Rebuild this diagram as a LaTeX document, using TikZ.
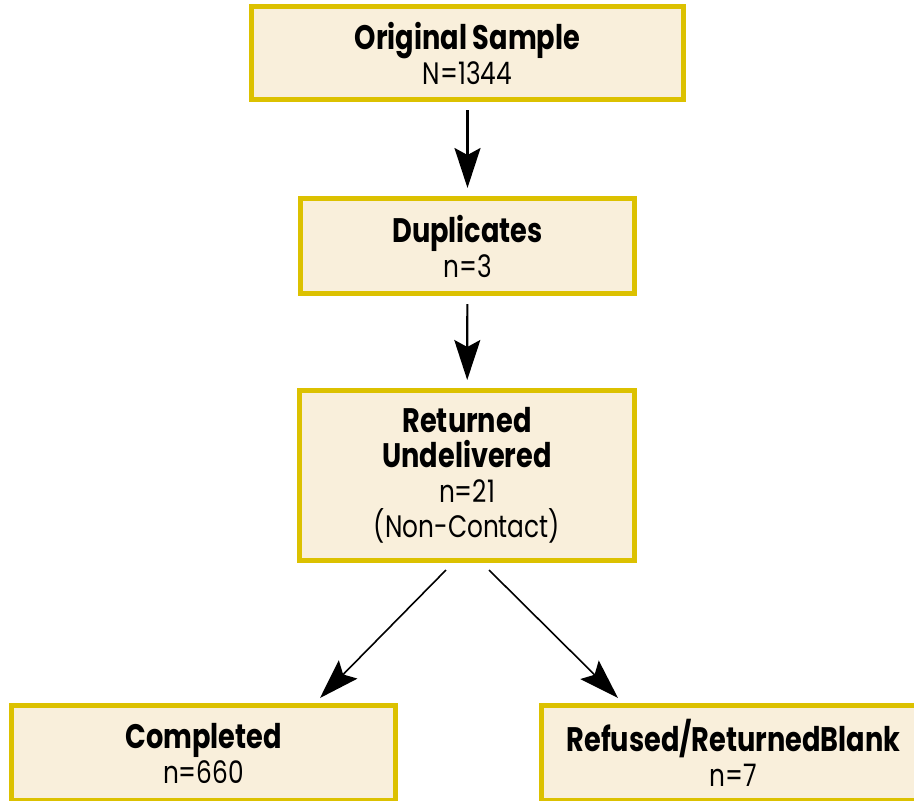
\documentclass[tikz,border=0pt]{standalone}
\usepackage{fontspec}
\setmainfont[FakeStretch=0.8]{Poppins}
\usetikzlibrary{arrows.meta}
\definecolor{boxfill}{HTML}{F9EFDB}
\definecolor{boxline}{HTML}{DCC100}
\newcommand{\head}[1]{{\fontsize{34}{35}\selectfont\bfseries #1}}
\tikzset{
	stage/.style={draw=boxline, fill=boxfill, line width=5pt, align=center,
		inner sep=0pt, font=\fontsize{31}{35}\selectfont},
	flow/.style={-{Stealth[length=40pt,width=26pt,inset=7pt]}, line width=2.2pt}
}

\begin{document}
\begin{tikzpicture}[x=1pt,y=-1pt]

				\useasboundingbox (0,0) rectangle (914,801);

	  			\node[stage,minimum width=432pt,minimum height=93pt] 	(orig)     	at (467.5,53) 		{\head{Original Sample}\\N=1344};
				\node[stage,minimum width=334pt,minimum height=95pt] 	(dup)   	at (467.5,246) 		{\head{Duplicates}\\n=3};
				\node[stage,minimum width=335pt,minimum height=170pt] 	(ret)   	at (467,475.5) 		{\head{Returned}\\\head{Undelivered}\\n=21\\(Non-Contact)};
				\node[stage,minimum width=384pt,minimum height=95pt] 	(comp)   	at (203.5,753) 		{\head{Completed}\\n=660};
				\node[stage,minimum width=384pt,minimum height=95pt] 	(refused)   at (733.5,753) 		{\head{Refused/ReturnedBlank}\\n=7};

				\path[flow,shorten <=8pt,shorten >=8pt]
				(orig)	edge	(dup)
				(dup)	edge	(ret);

				\draw[flow,line width=1.6pt] ([xshift=-21pt,yshift=-7pt]ret.south) -- ([xshift=116.5pt,yshift=5pt]comp.north);
				\draw[flow,line width=1.6pt] ([xshift=22pt,yshift=-7pt]ret.south) -- ([xshift=-115.5pt,yshift=5pt]refused.north);

%				\draw[red] (0,0) rectangle (914,801);

		\end{tikzpicture}
\end{document}
